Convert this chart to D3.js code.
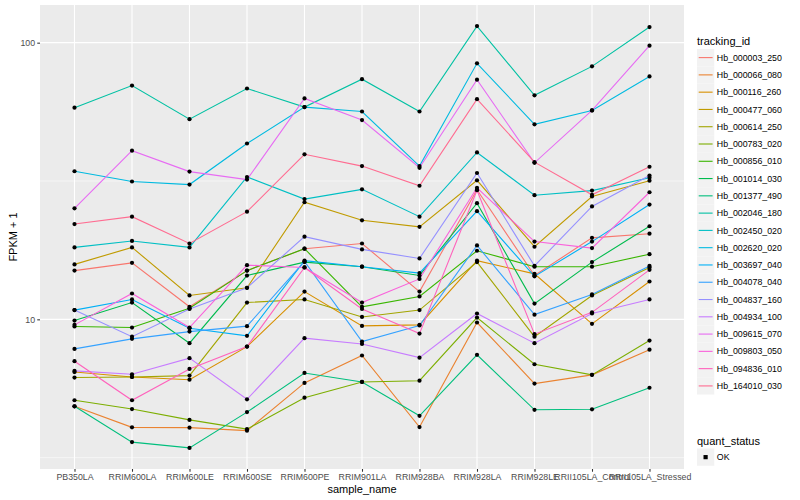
<!DOCTYPE html>
<html><head><meta charset="utf-8">
<script src="https://cdn.jsdelivr.net/npm/d3@7"></script>
<style>body{margin:0;background:#fff}svg{display:block}text{font-family:"Liberation Sans",Arial,Helvetica,sans-serif}</style>
</head><body>
<svg id="c" width="800" height="500"></svg>
<script>
const samples = ["PB350LA","RRIM600LA","RRIM600LE","RRIM600SE","RRIM600PE","RRIM901LA","RRIM928BA","RRIM928LA","RRIM928LE","RRII105LA_Control","RRII105LA_Stressed"];
const trackingIds = ["Hb_000003_250","Hb_000066_080","Hb_000116_260","Hb_000477_060","Hb_000614_250","Hb_000783_020","Hb_000856_010","Hb_001014_030","Hb_001377_490","Hb_002046_180","Hb_002450_020","Hb_002620_020","Hb_003697_040","Hb_004078_040","Hb_004837_160","Hb_004934_100","Hb_009615_070","Hb_009803_050","Hb_094836_010","Hb_164010_030"];
const seriesColors = ["#F8766D","#EA8331","#D89000","#C09B00","#A3A500","#7CAE00","#39B600","#00BB4E","#00BF7D","#00C1A3","#00BFC4","#00BAE0","#00B0F6","#35A2FF","#9590FF","#C77CFF","#E76BF3","#FA62DB","#FF62BC","#FF6C91"];
const fpkm = [
  [15.0,16.0,11.1,15.0,18.0,18.8,12.6,29.4,14.4,19.7,20.4],
  [4.85,4.07,4.06,3.96,5.89,7.40,4.08,9.74,5.86,6.30,7.77],
  [6.45,6.19,6.05,7.97,12.6,9.47,9.55,16.3,14.6,9.63,13.7],
  [15.8,18.2,12.2,13.0,26.5,22.8,21.6,31.8,18.3,27.8,31.7],
  [6.16,6.19,6.26,11.5,11.8,10.2,10.8,16.1,8.66,12.2,15.4],
  [5.10,4.74,4.33,4.01,5.21,5.94,6.00,10.15,6.88,6.30,8.38],
  [9.42,9.34,10.96,15.0,18.0,11.1,12.1,17.7,15.5,15.5,17.2],
  [9.90,11.5,8.20,14.4,16.1,15.5,14.4,26.3,11.4,16.1,21.7],
  [4.85,3.60,3.43,4.62,6.40,5.94,4.48,7.44,4.71,4.73,5.66],
  [58.2,70.0,52.9,68.3,58.5,73.8,56.4,114.8,64.5,82.1,113.9],
  [18.2,19.2,18.2,32.7,27.2,29.5,23.5,40.1,28.1,29.2,32.5],
  [34.3,31.5,30.7,43.2,58.5,56.4,35.8,84.2,50.7,56.9,75.5],
  [10.8,11.8,9.28,8.72,16.3,15.5,14.7,24.6,14.3,19.1,26.0],
  [7.82,8.50,9.03,9.45,16.2,8.31,9.50,18.5,10.4,12.3,15.6],
  [10.8,8.66,10.9,13.0,19.9,17.9,16.6,33.8,15.6,25.6,33.1],
  [6.51,6.33,7.24,5.14,8.55,8.15,7.27,10.5,8.20,10.5,11.8],
  [25.2,40.7,34.2,32.0,62.9,52.5,35.3,73.5,36.8,56.9,97.5],
  [9.55,12.4,9.34,15.7,15.4,11.5,14.0,29.9,19.1,18.1,28.8],
  [7.06,5.10,6.62,7.97,15.4,10.9,8.88,29.3,8.84,10.6,15.1],
  [22.1,23.5,18.8,24.5,39.5,35.8,30.4,62.5,37.0,28.2,35.6]
];
const yTicks = [10, 100];
const yMinor = [Math.sqrt(10), Math.sqrt(1000)];
const statusLabels = ["OK"];

const svg = d3.select("#c");
const P = {l:40, r:684, t:5, b:469};
const x = d3.scalePoint().domain(samples).range([P.l, P.r]).padding(0.6);
const all = fpkm.flat();
const lmin = Math.log10(d3.min(all)), lmax = Math.log10(d3.max(all));
const ex = (lmax - lmin) * 0.05;
const y = d3.scaleLog().domain([Math.pow(10, lmin - ex), Math.pow(10, lmax + ex)]).range([P.b, P.t]);

svg.append("rect").attr("x",P.l).attr("y",P.t).attr("width",P.r-P.l).attr("height",P.b-P.t).attr("fill","#EBEBEB");
const g = svg.append("g");
g.selectAll(".ym").data(yMinor).enter().append("line")
  .attr("x1",P.l).attr("x2",P.r).attr("y1",d=>y(d)).attr("y2",d=>y(d)).attr("stroke","#fff").attr("stroke-width",0.55);
g.selectAll(".yM").data(yTicks).enter().append("line")
  .attr("x1",P.l).attr("x2",P.r).attr("y1",d=>y(d)).attr("y2",d=>y(d)).attr("stroke","#fff").attr("stroke-width",1.1);
g.selectAll(".xM").data(samples).enter().append("line")
  .attr("x1",d=>x(d)).attr("x2",d=>x(d)).attr("y1",P.t).attr("y2",P.b).attr("stroke","#fff").attr("stroke-width",1.1);

const line = d3.line().x((d,i)=>x(samples[i])).y(d=>y(d));
svg.append("g").selectAll("path").data(fpkm).enter().append("path")
  .attr("d", d=>line(d)).attr("fill","none").attr("stroke",(d,i)=>seriesColors[i]).attr("stroke-width",1.1);
const pts = svg.append("g");
fpkm.forEach(s => s.forEach((v,i) => {
  pts.append("circle").attr("cx", x(samples[i])).attr("cy", y(v)).attr("r", 2.1).attr("fill","#000");
}));

// axes
const yAxis = d3.axisLeft(y).tickValues(yTicks).tickFormat(d3.format("d")).tickSize(2.75).tickPadding(2.2);
const ya = svg.append("g").attr("transform",`translate(${P.l},0)`).call(yAxis);
const xAxis = d3.axisBottom(x).tickSize(2.75).tickPadding(2.2);
const xa = svg.append("g").attr("transform",`translate(0,${P.b})`).call(xAxis);
[ya, xa].forEach(a => {
  a.select(".domain").remove();
  a.selectAll(".tick line").attr("stroke","#333").attr("stroke-width",1.07);
  a.selectAll(".tick text").attr("fill","#4D4D4D").attr("font-size","8.8px").attr("font-family","Liberation Sans, Arial, sans-serif");
});

svg.append("text").attr("x",(P.l+P.r)/2).attr("y",492.5).attr("text-anchor","middle").attr("font-size","11px").text("sample_name");
svg.append("text").attr("transform",`translate(16.5,${(P.t+P.b)/2}) rotate(-90)`).attr("text-anchor","middle").attr("font-size","11px").text("FPKM + 1");

// legend
const lg = svg.append("g");
lg.append("text").attr("x",697).attr("y",44.5).attr("font-size","11px").text("tracking_id");
const keyH = 17.28, key0 = 57.6 - keyH/2;
trackingIds.forEach((id,i) => {
  const ky = key0 + i*keyH;
  lg.append("rect").attr("x",697).attr("y",ky).attr("width",keyH).attr("height",keyH).attr("fill","#F2F2F2");
  lg.append("line").attr("x1",698.7).attr("x2",712.6).attr("y1",ky+keyH/2).attr("y2",ky+keyH/2).attr("stroke",seriesColors[i]).attr("stroke-width",1.1);
  lg.append("text").attr("x",716.8).attr("y",ky+keyH/2+3.1).attr("font-size","8.8px").text(id);
});
lg.append("text").attr("x",697).attr("y",444.5).attr("font-size","11px").text("quant_status");
statusLabels.forEach((s,i) => {
  const ky = 448.5 + i*keyH;
  lg.append("rect").attr("x",697).attr("y",ky).attr("width",keyH).attr("height",keyH).attr("fill","#F2F2F2");
  lg.append("rect").attr("x",705.6-2.1).attr("y",ky+keyH/2-2.1).attr("width",4.2).attr("height",4.2).attr("fill","#000");
  lg.append("text").attr("x",716.8).attr("y",ky+keyH/2+3.1).attr("font-size","8.8px").text(s);
});
</script>
</body></html>
